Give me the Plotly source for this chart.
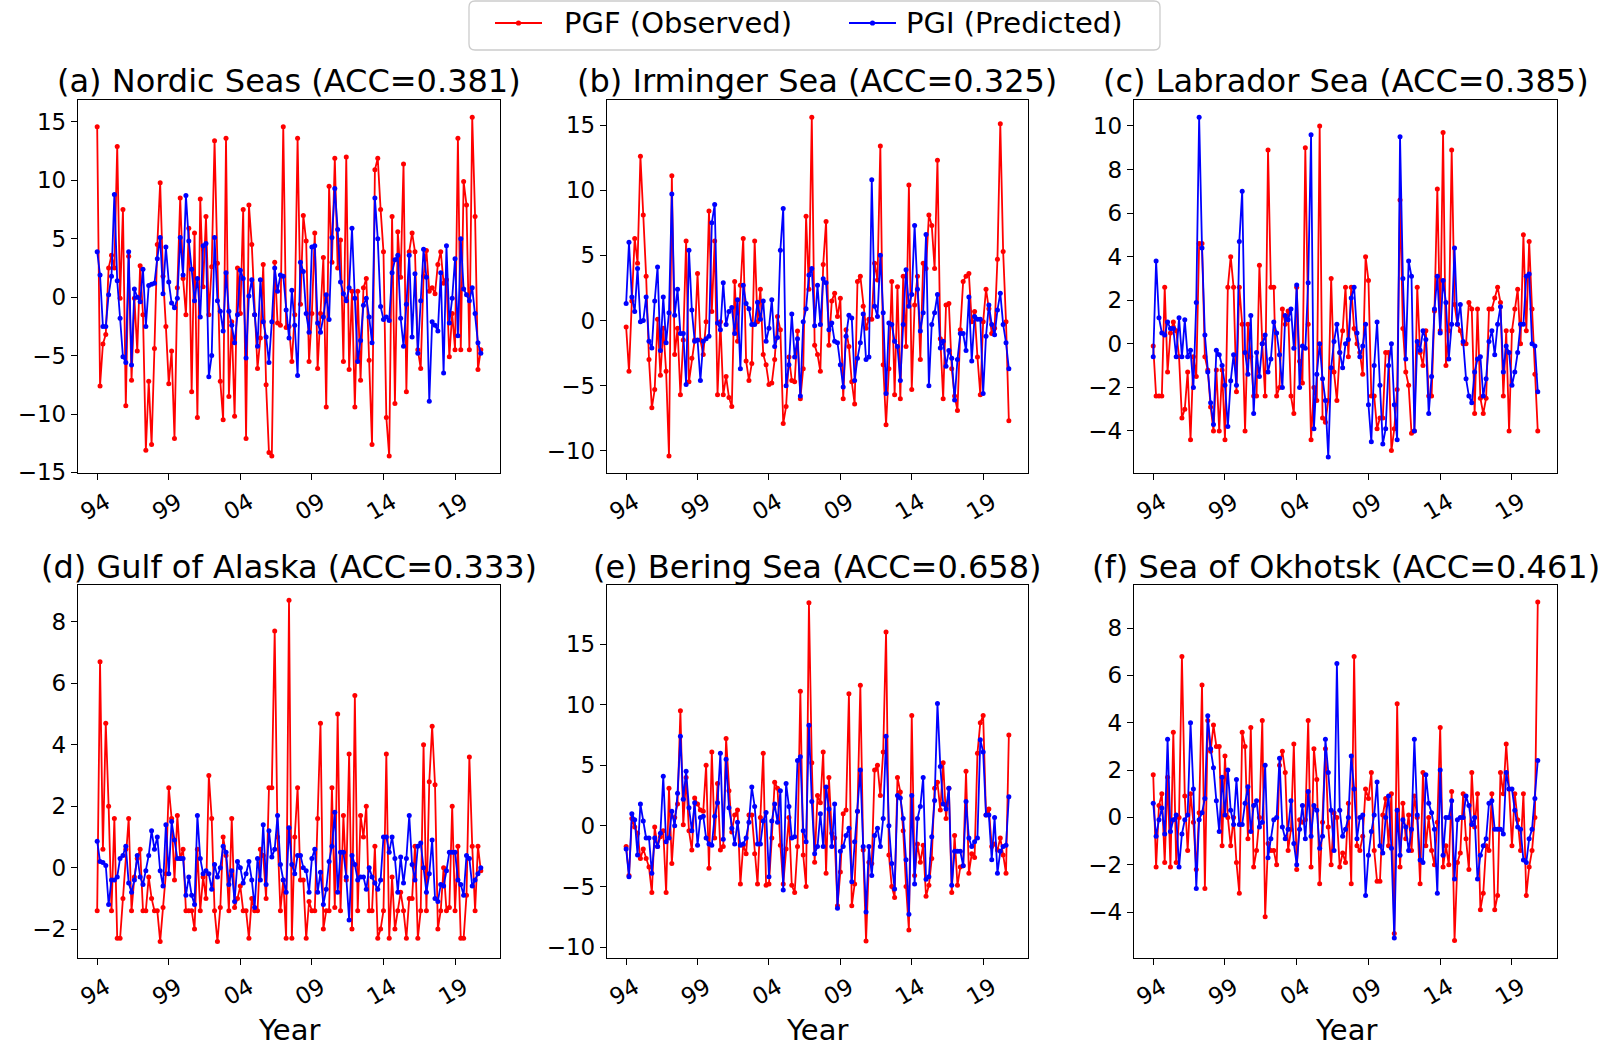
import plotly.graph_objects as go

# ---------------- data ----------------
tick_idx = [0, 25, 50, 75, 100, 125]
tick_lbl = ['94', '99', '04', '09', '14', '19']

titles = ['(a) Nordic Seas (ACC=0.381)', '(b) Irminger Sea (ACC=0.325)', '(c) Labrador Sea (ACC=0.385)',
          '(d) Gulf of Alaska (ACC=0.333)', '(e) Bering Sea (ACC=0.658)', '(f) Sea of Okhotsk (ACC=0.461)']
series_names = ['PGF (Observed)', 'PGI (Predicted)']
series_colors = ['#ff0000', '#0000ff']

pgf_a = [14.6, -7.6, -4.0, -3.2, 2.5, 3.6, 2.5, 12.9, -0.1, 7.5, -9.3, 3.5, -7.1, -0.1, -4.6, 2.7, -1.5, -13.1, -7.2, -12.6,
         -4.4, 4.5, 9.8, 1.8, -2.5, -7.4, -4.6, -12.1, 0.8, 8.5, 1.6, -1.5, 5.9, -8.1, 5.5, -10.3, 8.4, 0.9, 6.9, -1.5,
         2.6, 13.4, 2.9, -7.2, -10.5, 13.6, -8.5, -2.1, -10.2, 2.5, -1.4, 7.5, -12.1, 7.9, 4.5, -1.5, -6.1, -3.5, 2.8, -7.5,
         -13.3, -13.6, 3.0, -2.2, -2.4, 14.6, -2.6, -2.5,
         -5.5, -1.5, 13.6, -0.6, 7.0, 4.8, -5.5, -1.4, 5.5, -6.1, -1.4, 3.4, -9.4, 9.5, 3.0, 11.9, 2.5, 4.9, -5.5, 12.0,
         -6.2, 0.5, -9.4, 0.5, -7.1, 0.8, 1.6, -5.4, -12.6, 10.9, 11.9, 7.5, 3.9, -10.3, -13.6, 6.9, -9.1, 5.6, 1.7, 11.4,
         -8.1, 3.9, 5.5, 3.9, -4.5, -6.1, 1.8, 4.0, 0.5, 0.8, 0.3, 2.8, 3.9, 1.2, 1.5, -5.1, -1.4, -4.5, 13.6, -4.5,
         9.9, 7.9, -4.5, 15.4, 6.9, -6.2, -4.5]
pgi_a = [3.9, 1.9, -2.5, -2.5, 0.2, 1.8, 8.8, 1.4, -1.8, -5.1, -5.6, 3.9, -5.8, 0.7, 0.0, -0.4, 2.4, -2.5, 1.0, 1.1,
         1.2, 3.3, 5.1, 0.3, 4.3, 1.3, -0.5, -0.9, -0.1, 5.1, 1.9, 8.7, 4.8, 2.4, -0.3, 1.6, -1.7, 4.4, 4.6, -6.8,
         -5.0, 5.1, -0.3, -1.2, -2.9, 2.1, -1.2, -2.4, -3.9, -1.5, 2.3, 1.6, -5.2, 0.1, 1.5, -1.5, -4.2, 1.5, -2.1, -3.4,
         -5.6, -2.1, 2.5, 0.5, 1.9, 1.8, -1.1, -3.5,
         0.6, -2.4, -6.7, 3.0, 2.2, -1.4, -3.0, 4.3, 4.4, -2.2, -3.0, -1.7, 0.2, -1.9, 5.1, 9.3, 5.8, 1.3, 0.3, -0.3,
         0.8, 5.9, -0.1, -5.5, -3.7, -0.7, -0.1, -1.7, -3.9, 8.5, 5.0, -0.8, -1.9, -1.7, -2.0, 2.1, 3.2, 3.6, -1.8, -4.2,
         -0.6, 3.6, -3.4, 2.0, -4.8, -0.3, 4.1, 1.7, -8.9, -2.1, -2.4, -2.9, 2.1, -6.5, 4.4, -2.2, -0.1, 3.3, -3.3, 5.0,
         0.7, 0.2, -0.3, 0.8, -1.4, -3.9, -4.8]

pgf_b = [-0.5, -3.9, 1.5, 6.3, 4.4, 12.6, 8.1, 3.4, -3.0, -6.7, -5.3, 0.1, -4.2, -0.6, -3.9, -10.4, 11.1, -2.6, -0.6, -5.7,
         -1.5, 6.1, -4.7, -2.9, -1.5, 3.6, -1.5, -2.6, -0.1, 8.4, 0.7, 6.1, -5.7, -0.1, -5.7, -4.3, -5.9, -6.6, 3.0, -1.6,
         2.7, 6.3, -3.1, -4.6, -3.3, 6.1, -0.1, 2.4, -2.6, -3.4, -4.9, -4.8, -3.0, 0.3, -0.7, -7.9, -6.6, -2.8, -4.6, -4.7,
         -0.8, -6.0, -3.7, 8.0, 2.4, 15.6, -1.9,
         -2.6, -3.9, 4.3, 7.6, -1.9, 1.5, 2.1, 0.3, 1.7, -6.0, -0.7, -2.0, -4.7, -6.4, 3.0, 3.4, 1.1, -0.6, 0.1, 0.1,
         4.4, 3.1, 13.4, -3.4, -8.0, -3.7, 3.0, -5.7, 2.6, -6.0, 3.4, -2.0, 10.4, -5.3, 1.2, 3.4, -3.0, 4.4, 4.0, 8.1,
         7.3, 4.0, 12.3, -1.4, -6.0, 1.2, 1.3, -3.7, -5.8, -6.9, -0.7, 3.0, 3.4, 3.6, -0.1, 0.7, -2.8, -5.7, -0.1, 2.4,
         0.9, -1.0, -0.6, 4.7, 15.1, 5.3, -0.1, -7.7]
pgi_b = [1.3, 6.0, 1.8, 0.7, 4.0, -0.1, 0.0, 1.8, -1.6, -2.1, 1.5, 4.1, -2.3, 1.8, -1.7, 0.6, 9.7, 0.4, 2.4, -1.0,
         -1.0, -4.9, 5.4, 0.8, -1.6, -1.5, -4.6, -1.6, -1.4, -1.2, 7.5, 8.9, -0.2, -0.7, 2.9, -0.3, 0.7, 1.0, -1.0, 1.6,
         -3.7, 2.7, 1.3, 0.9, -0.3, -0.3, 1.4, 0.1, 1.5, -1.6, -0.6, 1.6, -2.0, -1.3, 5.4, 8.6, -5.0, -3.4, 0.5, -2.8,
         -1.4, -5.8, -0.1, 0.9, 3.5, 4.0, -0.4,
         2.7, -0.3, 3.2, 2.9, -0.7, -0.2, -1.6, -1.7, -3.4, -5.1, -1.2, 0.4, 0.2, -4.6, -2.9, -1.7, 0.5, -3.0, -2.8, 10.8,
         1.1, 0.3, 5.0, 0.6, -5.6, -0.2, -0.3, -1.6, -2.0, -4.6, -0.3, 3.9, 1.1, 2.0, 7.3, 2.4, -0.8, 0.6, 6.6, -5.0,
         -0.3, 0.6, 2.0, -2.1, -1.6, -3.5, -2.3, -2.9, -6.1, -3.0, -1.0, -1.0, -2.3, 1.8, -3.1, 0.3, 0.1, 0.1, -5.6, -1.2,
         1.2, -0.3, -1.1, 0.8, 2.1, -0.3, -1.7, -3.7]

pgf_c = [-0.1, -2.4, -2.4, -2.4, 2.6, -1.3, 0.5, 1.0, 0.6, -0.6, -3.4, -3.0, -1.3, -4.4, -0.6, -1.5, 4.6, 4.6,
         -0.6, -1.2, -2.9, -4.0, -1.2, -4.0, -1.2, -4.4, 2.6, 4.0, 2.6, -2.2, 2.6, 0.9, -4.0, 0.9, -0.6, -2.4, -2.4, 3.6,
         0.0, -2.4, 8.9, 2.6, 2.6, -2.4, -2.0, 1.6, 0.9, 1.5, -2.4, -3.2, 2.6, -0.8, -1.8,
         9.0, 0.9, -4.4, -2.0, -2.6, 10.0, -3.4, -3.6, -2.6, 3.0, -1.3, -2.6, -0.4, 0.6, 2.6, -0.6,
         2.6, 0.7, 0.0, -0.4, -1.4, 4.0, 2.9, -2.4, -2.4, -3.9, -3.4, -3.4, -0.4, -0.4, -4.9, -3.9, -2.1, 6.6, 0.7, -1.3,
         -1.9, -4.1, -4.0,
         2.6, -0.4, -1.0, 0.6, -2.4, -2.4, 1.5, 7.1, 0.6, 9.7, -1.0, 0.6, 8.9, 1.8, 0.9, 0.6, 0.0, 0.0, 1.9, 1.6,
         -3.2, 1.6, -2.5, -3.2, -2.5, 1.6, 1.6, 2.1, 2.6, 1.9, -2.4, 0.6, -4.0, 0.6, 1.6, 2.5, 0.0, 5.0, 0.6, 4.7,
         1.6, -1.4, -4.0]
pgi_c = [-0.6, 3.8, 1.2, 0.5, 0.4, 1.0, 0.7, 0.7, -0.6, 1.2, -0.6, 1.1, -0.6, -0.3, -2.0, 1.9, 10.4, 4.4, 0.4, -1.3,
         -2.7, -3.7, -0.3, -0.5, -1.0, -1.9, -3.8, -1.7, -0.5, -1.9, 4.7, 7.0, -0.4, -1.4, 1.3, -3.2, -0.4, -1.5, 0.0, 0.4,
         -1.3, -0.7, 1.0, 0.5, -0.5, -2.0, 1.3, 1.1, 1.6, -0.2, 2.7, -2.0, -0.1, -0.2, 2.8, 9.6, -3.9, -1.4, 0.0, -1.6,
         -2.6, -5.2, -1.1, 0.1, 0.9, -0.4, -1.1, 0.0, 0.2,
         2.1, 2.6, 0.5, -0.6, -0.1, 0.9, -2.8, -4.5, -1.0, 1.0, -1.9, -4.6, -3.9, -1.0, 0.0, -2.8, -4.4, 9.5, 3.0, -0.7,
         3.8, 3.1, -4.0, 0.1, -0.3, 0.6, 0.2, -3.2, -1.5, 1.6, 3.1, 0.5, 2.9, 1.9, -0.7, 0.9, 4.4, 0.9, 1.8, 0.1,
         -1.6, -2.4, -2.7, -1.3, -0.7, -0.6, -2.4, -1.6, 0.1, 0.6, -0.5, 0.9, 1.7, -1.3, -0.1, -0.4, -1.9, -1.3, -0.4, 0.9,
         0.9, 3.1, 3.2, 0.0, -0.1, -2.2]

pgf_d = [-1.4, 6.7, 0.6, 4.7, 2.0, -1.4, 1.6, -2.3, -2.3, -1.0, 0.6, 1.6, -1.4, -0.3, 0.3, 0.6, -1.4, -1.4, -0.3, -1.0,
         -1.4, -1.4, -2.4, -1.3, -0.2, 2.6, 1.6, -0.4, 1.7, 0.3, 0.6, -1.4, -1.4, -1.4, -2.0, 0.6, -1.4, -0.3, -1.0, 3.0,
         1.6, -1.4, -2.4, -1.3, 1.0, 0.4, -1.4, 1.6, -1.3, -1.0, -0.6, -1.4, -1.4, -2.3, -1.0, -1.4, -1.4, 0.6, 0.4, -1.0,
         2.6, 2.6, 7.7, 1.0, -1.4, -0.4, -2.3, 8.7,
         -2.3, 1.0, 2.6, -0.4, -0.4, -2.3, -1.1, -1.4, -1.4, 1.6, 4.7, -2.0, -1.4, -1.4, 2.6, -1.3, 5.0, -1.4, 1.7, -0.4,
         3.7, -2.0, 5.6, -1.4, 1.7, 1.0, 2.0, -1.4, -1.4, 0.7, -2.3, -2.0, -1.4, 3.7, -2.3, -0.3, -2.0, -1.4, -0.8, -1.4,
         -2.3, -1.0, -1.0, 0.7, -2.3, -1.4, 4.0, -1.4, 2.8, 4.6, 2.7, -2.0, -1.4, 0.0, -1.4, -1.3, 2.0, -1.4, 0.7, -2.3,
         -2.3, -0.9, 3.6, 0.7, -1.4, 0.7, -0.1]
pgi_d = [0.86, 0.2, 0.17, 0.07, -1.2, -0.4, -0.4, -0.3, 0.3, 0.4, 0.7, -0.5, -0.8, -0.4, 0.4, -0.3, -0.55, -0.1, 0.4, 1.2,
         0.6, 1.0, -0.1, -0.6, 1.4, -0.2, 1.5, 0.9, 0.3, 0.3, 0.3, -0.9, -0.3, -0.9, -1.2, 1.7, 0.3, -0.2, -0.1, -0.2,
         -0.7, 0.1, -0.3, 0.0, 0.7, 0.5, -0.55, -0.1, -1.1, 0.2, 0.0, -0.5, -0.2, 0.2, -0.4, -1.3, 0.3, -0.4, 1.4, -0.55,
         1.2, 0.35, 0.6, 1.7, 0.1, -0.4, -0.8, 1.3,
         0.1, -0.2, 0.4, 0.4, 0.0, -0.1, -0.8, 0.3, 0.6, -0.8, -0.15, -1.2, -0.7, 0.2, 0.7, 1.8, -0.8, 0.5, 0.5, -0.3,
         -1.7, 0.4, 0.1, -0.4, -0.3, -0.3, -0.7, 0.0, -0.3, -0.5, -0.7, -0.4, 1.0, 1.0, 0.5, 1.0, 0.3, -0.8, 0.35, -0.5,
         0.3, 1.7, 0.1, -0.4, 0.7, 0.8, 0.0, -0.8, -0.2, 0.9, -1.0, -1.1, -0.55, -0.6, -0.1, 0.5, 0.5, 0.5, -0.4, -0.55,
         -0.9, 0.4, 0.3, -0.6, -0.4, -0.2, 0.0]

pgf_e = [-1.7, -4.1, 0.6, -0.1, -0.6, -2.7, -1.9, -2.7, -3.4, -5.5, -0.1, -1.7, -0.9, -0.4, -5.5, 3.1, -3.1, 0.7, 1.8, 9.5,
         0.1, 4.0, -0.4, -2.0, 2.3, 1.8, 1.3, 1.2, 5.0, -3.5, 6.1, -1.0, 3.5, -2.0, -1.7, 7.2, 2.9, -0.5, 0.9, 1.3,
         -4.8, -1.6, -2.3, 0.9, 0.9, -2.3, -4.8, 0.7, 6.0, -4.9, -4.8, -1.0, 3.6, 3.1, -1.6, -4.8, -1.9, 0.7, -4.9, -5.5,
         -1.7, 11.1, -2.4, -5.0, 18.4, 5.2, -3.0, 2.5, 1.9,
         6.1, -3.9, 4.0, -0.6, -1.0, -6.6, -3.8, 1.0, 1.3, 10.9, -6.6, -4.8, 1.2, 11.6, -2.0, -9.5, -3.0, -3.1, 4.6, 5.0,
         2.5, 6.1, 16.0, -2.4, -5.0, -5.9, 4.0, 2.8, -0.4, -5.0, -8.6, 9.1, -4.1, -1.5, -3.0, -1.6, -5.8, -4.9, -2.7, 3.1,
         3.6, 1.3, 5.2, 0.6, 3.1, -5.5, -0.8, -4.9, -3.4, -3.3, 4.5, -3.9, -2.3, -2.6, 6.0, 8.5, 9.1, 0.9, 1.4, -1.7,
         -1.5, -2.0, -1.0, -2.4, -3.9, 7.5]
pgi_e = [-1.9, -4.2, 1.0, 0.5, -2.4, 1.8, 0.4, -1.0, -1.0, -3.9, -1.0, -1.7, -0.6, 4.1, -1.3, -1.0, 1.2, 0.0, 2.7, 7.4,
         2.2, 4.5, 1.5, -0.4, 1.9, -1.6, 0.7, 0.8, -1.0, -1.5, -1.6, 0.8, 1.9, 6.0, -1.1, 5.5, 1.5, -0.2, -1.5, 0.3,
         -1.6, -1.5, -1.0, 0.3, 3.2, 1.6, -1.5, -1.5, 0.4, 1.1, -4.2, 0.4, 1.8, 0.3, 2.9, -5.3, 3.5, 1.6, -1.0, -0.9,
         5.4, 5.7, -0.4, -1.3, 8.3, 2.0, -2.3, -1.7, 1.0,
         -1.7, 3.2, 1.4, -1.7, 1.8, -6.8, -2.1, -1.7, -0.8, -0.2, -4.6, -1.3, 1.2, 4.6, -1.7, -7.1, -1.7, -4.1, -0.8, -0.2,
         -1.7, 0.6, 7.4, 0.0, -3.1, -5.2, 2.5, 2.3, 0.6, -2.8, -7.3, 2.5, -4.8, 0.6, 1.6, 4.0, -4.4, -4.2, -0.9, 2.1,
         10.1, 4.9, 1.8, 1.4, 3.1, -4.9, -2.1, -2.1, -2.1, -3.3, 2.0, -1.0, -1.7, -1.3, -1.0, 7.1, 6.1, 0.9, 0.9, -2.8,
         0.7, -3.9, -2.1, -1.7, -1.6, 2.4]

pgf_f = [1.8, -2.1, 0.5, 1.0, -1.9, 1.7, -2.1, 3.6, -1.9, 0.0, 6.8, 0.9, -1.4, 1.0, -0.2, -2.2, 0.2, 5.6, -3.0, 4.1,
         2.8, 3.9, 3.0, 3.0, -1.2, 2.6, 0.0, -1.2, 0.0, -1.9, -3.2, 3.6, 3.0, -0.9, 3.8, -2.1, -1.4, 0.0, 4.1, -4.2,
         -1.1, -1.4, -1.4, -2.0, 2.2, 2.8, 1.9, -1.4, -0.5, 3.1, -2.2, -0.1, -0.2, -0.1, 4.1, -2.1, 2.9, 1.6, -2.8, -0.2,
         2.9, -0.4, -2.0, 0.2, 0.0, -2.1, -1.5, -1.9, 0.6,
         -2.8, 6.8, -1.2, -1.4, -0.8, 1.2, 0.8, 1.9, -1.4, -2.7, -2.7, 0.1, 0.8, -1.2, 1.0, -4.9, 4.8, -2.1, 0.6, -0.9,
         0.1, -1.4, 0.9, 0.0, -2.8, 1.9, -1.2, 0.0, -1.4, -2.0, -0.2, 3.8, -2.1, -1.2, -2.0, 1.1, -5.2, -1.9, -1.5, 1.0,
         -0.9, -2.2, 1.9, -0.4, 1.0, -3.9, -3.2, -1.2, -1.4, 1.0, -3.9, -3.3, 1.9, 1.0, 3.1, 1.2, -1.2, 1.0, -0.1, -1.4,
         1.0, -3.3, -2.1, -1.4, 0.0, 9.1]
pgi_f = [0.6, -0.8, -0.1, 0.4, -0.7, 3.3, -0.6, -0.1, 0.1, -2.1, -0.7, -0.1, 0.1, 4.0, 1.2, -3.0, -0.1, 0.2, 0.8, 4.3,
         2.9, 2.1, 0.7, -0.6, 1.7, 0.1, 2.0, 0.3, -0.3, 1.6, -0.3, -0.3, 0.6, 1.3, -0.6, 0.5, 0.7, -0.4, -0.2, 2.2,
         -1.7, -0.9, -0.1, 0.0, 2.5, -0.4, -0.9, -0.5, 0.7, -1.1, -2.0, -0.5, 0.5, -0.9, 1.1, -0.8, 0.5, 0.3, -1.3, -0.8,
         3.3, 1.9, 0.3, -1.4, 6.5, 0.3, -0.8, -0.5, 0.0,
         2.6, 1.2, -0.9, 0.0, 0.1, -3.3, -1.6, -0.6, 0.1, 1.5, -1.2, -1.5, 0.0, 0.9, -1.3, -5.1, 0.3, -1.6, -0.1, -0.4,
         -1.4, -0.5, 3.3, 0.1, -1.8, -1.9, 1.8, 0.6, 0.2, -0.5, -3.2, 2.0, -1.6, 0.0, 0.0, 0.7, -2.6, -0.1, 0.0, 0.0,
         0.9, 0.5, -0.3, 0.0, -2.6, -1.6, -1.2, -0.9, 0.6, 0.7, -0.5, -0.5, -0.5, -0.7, 1.9, 1.2, 1.2, 0.3, -0.4, -0.5,
         -1.8, -1.9, -0.9, -0.5, 0.8, 2.4]

observed = [pgf_a, pgf_b, pgf_c, pgf_d, pgf_e, pgf_f]
predicted = [pgi_a, pgi_b, pgi_c, pgi_d, pgi_e, pgi_f]

y_ranges = [[-15.05, 16.88], [-11.7, 16.92], [-5.93, 11.19], [-2.94, 9.2], [-10.9, 19.87], [-5.94, 9.82]]
y_ticks = [list(range(-15, 16, 5)), list(range(-10, 16, 5)), list(range(-4, 11, 2)),
           list(range(-2, 9, 2)), list(range(-10, 16, 5)), list(range(-4, 9, 2))]

# ---------------- layout geometry ----------------
W, H = 1624, 1047
FONT = 'DejaVu Sans'
col_px = [(78, 500), (607, 1028), (1134, 1557)]
row_px = [(100, 473), (585, 958)]


def px(x):
    return x / W


def py(y):
    return 1 - y / H


fig = go.Figure()
annotations = []
shapes = []
layout_axes = {}
for k in range(6):
    r, c = divmod(k, 3)
    x0, x1 = col_px[c]
    t, b = row_px[r]
    xa = 'xaxis' if k == 0 else f'xaxis{k+1}'
    ya = 'yaxis' if k == 0 else f'yaxis{k+1}'
    xr = 'x' if k == 0 else f'x{k+1}'
    yr = 'y' if k == 0 else f'y{k+1}'
    for vals, name, col in zip([observed[k], predicted[k]], series_names, series_colors):
        fig.add_trace(go.Scatter(x=list(range(len(vals))), y=vals, mode='lines+markers', name=name,
                                 line=dict(color=col, width=1.8), marker=dict(color=col, size=5),
                                 xaxis=xr, yaxis=yr, showlegend=False))
    common = dict(showline=True, mirror=True, linecolor='black', linewidth=1.3, ticks='outside',
                  ticklen=6, tickwidth=1.3, tickcolor='black', showgrid=False, zeroline=False,
                  automargin=False, tickfont=dict(family=FONT, size=23, color='black'))
    layout_axes[xa] = dict(domain=[px(x0), px(x1)], anchor=yr, range=[-6.7, 140.7],
                           tickmode='array', tickvals=tick_idx, ticktext=tick_lbl, tickangle=-30,
                           ticklabelshift=9, **common)
    layout_axes[ya] = dict(domain=[py(b), py(t)], anchor=xr, range=y_ranges[k],
                           tickmode='array', tickvals=y_ticks[k], **common)
    title_y = 81 if r == 0 else 566.5
    annotations.append(dict(text=titles[k], xref='paper', yref='paper', x=px((x0 + x1) / 2),
                            y=py(title_y), xanchor='center', yanchor='middle', showarrow=False,
                            font=dict(family=FONT, size=32, color='black')))
    if r == 1:
        annotations.append(dict(text='Year', xref='paper', yref='paper', x=px((x0 + x1) / 2),
                                y=py(1030), xanchor='center', yanchor='middle', showarrow=False,
                                font=dict(family=FONT, size=29, color='black')))

# ---------------- legend (drawn by hand, matplotlib style) ----------------
bx0, bx1, by0, by1, rad = 469, 1160, 1, 50, 6
box_path = (f"M {px(bx0 + rad)},{py(by0)} L {px(bx1 - rad)},{py(by0)} "
            f"Q {px(bx1)},{py(by0)} {px(bx1)},{py(by0 + rad)} L {px(bx1)},{py(by1 - rad)} "
            f"Q {px(bx1)},{py(by1)} {px(bx1 - rad)},{py(by1)} L {px(bx0 + rad)},{py(by1)} "
            f"Q {px(bx0)},{py(by1)} {px(bx0)},{py(by1 - rad)} L {px(bx0)},{py(by0 + rad)} "
            f"Q {px(bx0)},{py(by0)} {px(bx0 + rad)},{py(by0)} Z")
shapes.append(dict(type='path', path=box_path, xref='paper', yref='paper',
                   line=dict(color='#cccccc', width=1.3), fillcolor='white', layer='below'))
ly = 23
for lx, tx, name, col in [(495, 562, series_names[0], series_colors[0]),
                          (849, 904, series_names[1], series_colors[1])]:
    shapes.append(dict(type='line', xref='paper', yref='paper', x0=px(lx), x1=px(lx + 47),
                       y0=py(ly), y1=py(ly), line=dict(color=col, width=1.8)))
    cx = lx + 23.5
    shapes.append(dict(type='circle', xref='paper', yref='paper', x0=px(cx - 2.6), x1=px(cx + 2.6),
                       y0=py(ly + 2.6), y1=py(ly - 2.6), line=dict(color=col, width=0), fillcolor=col))
    annotations.append(dict(text=name, xref='paper', yref='paper', x=px(tx), y=py(ly),
                            xanchor='left', yanchor='middle', showarrow=False,
                            font=dict(family=FONT, size=29, color='black')))

fig.update_layout(
    width=W, height=H, margin=dict(l=0, r=0, t=0, b=0, autoexpand=False),
    paper_bgcolor='white', plot_bgcolor='white',
    font=dict(family=FONT, color='black'),
    annotations=annotations, shapes=shapes, showlegend=False,
    **layout_axes,
)

fig.write_html("out.html", config={'displayModeBar': False},
               post_script="document.body.style.margin='0';document.body.style.overflow='hidden';")
